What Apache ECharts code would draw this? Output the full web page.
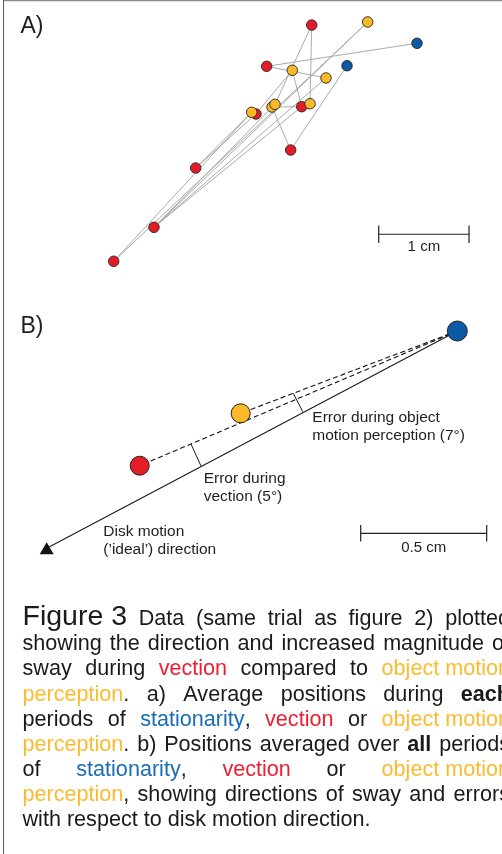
<!DOCTYPE html>
<html><head><meta charset="utf-8">
<script src="https://cdn.jsdelivr.net/npm/echarts/dist/echarts.min.js"></script>
<style>html,body{margin:0;padding:0;background:#fff;}#c{width:502px;height:854px;}</style>
</head><body><div id="c"></div>
<script>
// ---------- Panel A: average positions during each period (cm) ----------
const aStatId = ['S1','S2'];
const aStatX  = [4.308, 3.533];
const aStatY  = [2.576, 2.328];
const aVecId  = ['V1','V2','V3','V4','V5','V6','V7','V8'];
const aVecX   = [3.142, 2.643, 3.031, 2.525, 2.909, 1.857, 1.395, 0.949];
const aVecY   = [2.778, 2.321, 1.874, 1.793, 1.394, 1.195, 0.538, 0.162];
const aObjId  = ['O1','O2','O3','O4','O5','O6','O7'];
const aObjX   = [3.762, 2.927, 3.300, 3.123, 2.702, 2.735, 2.477];
const aObjY   = [2.812, 2.277, 2.192, 1.907, 1.870, 1.900, 1.812];
const aPath   = ['S1','V2','O3','V7','O1','V8','O7','V6','V4','O2','V3','V7','O6','V1','O4','V3','O5','V5','S2'];
const aScaleX = [3.884], aScaleY = [0.461], aScaleLen = [1], aScaleLabel = ['1 cm'];

// ---------- Panel B: positions averaged over all periods (cm) ----------
const bCond   = ['stationarity','vection','object'];
const bX      = [1.7036, 0.4433, 0.8440];
const bY      = [0.8968, 0.3623, 0.5702];
const bDiskEndX = [0.0742], bDiskEndY = [0.0345];
const bErrVecX = [0.6468, 0.6865], bErrVecY = [0.4484, 0.3611];
const bErrObjX = [1.0528, 1.0901], bErrObjY = [0.6496, 0.5766];
const bScaleX = [1.3202], bScaleY = [0.0940], bScaleLen = [0.5], bScaleLabel = ['0.5 cm'];

// ---------- Text ----------
const panelLabels = ['A)','B)'];
const bNotes = [
  ['Error during object','motion perception (7°)'],
  ['Error during','vection (5°)'],
  ['Disk motion','(\u2019ideal\u2019) direction']
];
const captionLines = [
  [['fig','Figure\u00a03'],['n',' Data (same trial as figure 2) plotted']],
  [['n','showing the direction and increased magnitude of']],
  [['n','sway during '],['r','vection'],['n',' compared to '],['y','object\u00a0motion']],
  [['y','perception'],['n','. a) Average positions during '],['B','each']],
  [['n','periods of '],['b','stationarity'],['n',', '],['r','vection'],['n',' or '],['y','object\u00a0motion']],
  [['y','perception'],['n','. b) Positions averaged over '],['B','all'],['n',' periods']],
  [['n','of '],['b','stationarity'],['n',', '],['r','vection'],['n',' or '],['y','object\u00a0motion']],
  [['y','perception'],['n',', showing directions of sway and errors']],
  [['n','with respect to disk motion direction.']]
];

const COL = {stationarity:'#0a5aa6', vection:'#e31d25', object:'#fbb829', line:'#ababab', ink:'#1e1e1e'};
const TXT = {n:'#1a1a1a', B:'#1a1a1a', fig:'#1a1a1a', r:'#ee1d2f', y:'#fcbb2e', b:'#1b6cb6'};
const FONT = '"Liberation Sans", Arial, sans-serif';

function lookup(id){
  const c = id[0];
  if (c==='S'){const i=aStatId.indexOf(id);return [aStatX[i],aStatY[i]];}
  if (c==='V'){const i=aVecId.indexOf(id);return [aVecX[i],aVecY[i]];}
  const i=aObjId.indexOf(id);return [aObjX[i],aObjY[i]];
}
const zipXY = (xs,ys)=>xs.map((x,i)=>[x,ys[i]]);

function scaleBarSeries(gi, xs, ys, lens, labels, tick, labOff){
  return {
    type:'custom', xAxisIndex:gi, yAxisIndex:gi, silent:true, z:5,
    data: xs.map((x,i)=>[x, ys[i], lens[i]]),
    renderItem(params, api){
      const x=api.value(0), y=api.value(1), L=api.value(2);
      const p0=api.coord([x,y]), p1=api.coord([x+L,y]);
      const st={stroke:'#222', lineWidth:1.2};
      return {type:'group', children:[
        {type:'line', shape:{x1:p0[0],y1:p0[1],x2:p1[0],y2:p1[1]}, style:st},
        {type:'line', shape:{x1:p0[0],y1:p0[1]-tick,x2:p0[0],y2:p0[1]+tick}, style:st},
        {type:'line', shape:{x1:p1[0],y1:p1[1]-tick,x2:p1[0],y2:p1[1]+tick}, style:st},
        {type:'text', style:{text:labels[params.dataIndex], x:(p0[0]+p1[0])/2, y:p0[1]+labOff,
          fontSize:15, fontFamily:FONT, fill:COL.ink, align:'center', verticalAlign:'middle'}}
      ]};
    }
  };
}

// caption layout (justified)
function fontSpec(st){
  if (st==='fig') return {size:28.5, weight:'normal'};
  if (st==='B') return {size:21.6, weight:'bold'};
  return {size:21.6, weight:'normal'};
}
function buildCaption(){
  const ctx=document.createElement('canvas').getContext('2d');
  const left=22.5, right=510, base0=627, lh=25.05;
  const els=[];
  captionLines.forEach((segs, li)=>{
    const tokens=[]; let cur=[];
    segs.forEach(([st,txt])=>{
      txt.split(' ').forEach((p,i)=>{
        if(i>0){ if(cur.length) tokens.push(cur); cur=[]; }
        if(p) cur.push([st,p]);
      });
    });
    if(cur.length) tokens.push(cur);
    const widths=tokens.map(tok=>tok.map(([st,p])=>{const f=fontSpec(st);ctx.font=f.weight+' '+f.size+'px '+FONT;return ctx.measureText(p).width;}));
    const tw=widths.map(w=>w.reduce((a,b)=>a+b,0));
    const sum=tw.reduce((a,b)=>a+b,0);
    ctx.font='normal 21.6px '+FONT;
    const sp=ctx.measureText(' ').width;
    const justify = li<captionLines.length-1;
    const gap = justify ? (right-left-sum)/(tokens.length-1) : sp;
    const base=base0+li*lh;
    let x=left;
    tokens.forEach((tok,ti)=>{
      tok.forEach(([st,p],pi)=>{
        const f=fontSpec(st);
        els.push({type:'text', silent:true, x:x, y:base-0.35*f.size,
          style:{text:p, fontSize:f.size, fontWeight:f.weight, fontFamily:FONT, fill:TXT[st], align:'left', verticalAlign:'middle'}});
        x+=widths[ti][pi];
      });
      x+=gap;
    });
  });
  return els;
}

function textAt(t,x,base,size,align){
  return {type:'text', silent:true, x:x, y:base-0.35*size,
    style:{text:t, fontSize:size, fontFamily:FONT, fill:COL.ink, align:align||'left', verticalAlign:'middle'}};
}

const chart = echarts.init(document.getElementById('c'), null, {renderer:'canvas'});
const mk = (c,bw)=>({color:c, borderColor:'#262626', borderWidth:bw, opacity:1});

const graphics = [
  {type:'line', silent:true, shape:{x1:3,y1:0.5,x2:502,y2:0.5}, style:{stroke:'#8c8c8c', lineWidth:1.5}},
  {type:'line', silent:true, shape:{x1:3.5,y1:0,x2:3.5,y2:854}, style:{stroke:'#555', lineWidth:1}},
  textAt(panelLabels[0],20.5,35,23), textAt(panelLabels[1],20.5,335,23),
  textAt(bNotes[0][0],312.3,422.7,15.5), textAt(bNotes[0][1],312.3,441,15.5),
  textAt(bNotes[1][0],203.7,484.3,15.5), textAt(bNotes[1][1],203.7,502.3,15.5),
  textAt(bNotes[2][0],103.3,537.3,15.5), textAt(bNotes[2][1],103.3,555.3,15.5)
].concat(buildCaption());

const bStationary=[bX[0],bY[0]], bVec=[bX[1],bY[1]], bObj=[bX[2],bY[2]];

chart.setOption({
  animation:false,
  backgroundColor:'#fff',
  grid:[
    {left:28, top:5, width:451.5, height:270.9},
    {left:28, top:305, width:453.6, height:252}
  ],
  xAxis:[{type:'value',min:0,max:5,show:false,gridIndex:0},{type:'value',min:0,max:1.8,show:false,gridIndex:1}],
  yAxis:[{type:'value',min:0,max:3,show:false,gridIndex:0},{type:'value',min:0,max:1,show:false,gridIndex:1}],
  series:[
    {type:'line', name:'path', xAxisIndex:0, yAxisIndex:0, data:aPath.map(lookup), showSymbol:false, symbol:'none',
      lineStyle:{color:COL.line, width:1}, z:1, silent:true},
    {type:'scatter', name:'Vection', xAxisIndex:0, yAxisIndex:0, data:zipXY(aVecX,aVecY), symbolSize:10.5, itemStyle:mk(COL.vection,0.9), z:3},
    {type:'scatter', name:'Object motion', xAxisIndex:0, yAxisIndex:0, data:zipXY(aObjX,aObjY), symbolSize:10.5, itemStyle:mk(COL.object,0.9), z:4},
    {type:'scatter', name:'Stationarity', xAxisIndex:0, yAxisIndex:0, data:zipXY(aStatX,aStatY), symbolSize:10.5, itemStyle:mk(COL.stationarity,0.9), z:4},
    scaleBarSeries(0, aScaleX, aScaleY, aScaleLen, aScaleLabel, 8.8, 12.5),

    // Panel B
    {type:'line', name:'disk', xAxisIndex:1, yAxisIndex:1, data:[bStationary,[bDiskEndX[0],bDiskEndY[0]]], symbol:'none',
      lineStyle:{color:'#1a1a1a', width:1.1}, z:1, silent:true},
    {type:'line', name:'dashVec', xAxisIndex:1, yAxisIndex:1, data:[bStationary,bVec], symbol:'none',
      lineStyle:{color:'#111', width:1.1, type:[5,3]}, z:1, silent:true},
    {type:'line', name:'dashObj', xAxisIndex:1, yAxisIndex:1, data:[bStationary,bObj], symbol:'none',
      lineStyle:{color:'#111', width:1.1, type:[5,3]}, z:1, silent:true},
    {type:'line', name:'errVec', xAxisIndex:1, yAxisIndex:1, data:zipXY(bErrVecX,bErrVecY), symbol:'none',
      lineStyle:{color:'#1a1a1a', width:1}, z:1, silent:true},
    {type:'line', name:'errObj', xAxisIndex:1, yAxisIndex:1, data:zipXY(bErrObjX,bErrObjY), symbol:'none',
      lineStyle:{color:'#1a1a1a', width:1}, z:1, silent:true},
    {type:'scatter', name:'diskArrow', xAxisIndex:1, yAxisIndex:1, data:[[bDiskEndX[0],bDiskEndY[0]]], symbol:'triangle',
      symbolSize:[14,12], itemStyle:{color:'#111', opacity:1}, z:3, silent:true},
    {type:'scatter', name:'B markers', xAxisIndex:1, yAxisIndex:1,
      data:[
        {value:bVec, itemStyle:mk(COL.vection,1), symbolSize:19},
        {value:bObj, itemStyle:mk(COL.object,1), symbolSize:19},
        {value:bStationary, itemStyle:mk(COL.stationarity,1), symbolSize:20}
      ], z:4},
    scaleBarSeries(1, bScaleX, bScaleY, bScaleLen, bScaleLabel, 8.3, 14.5)
  ],
  graphic: graphics
});
</script></body></html>
